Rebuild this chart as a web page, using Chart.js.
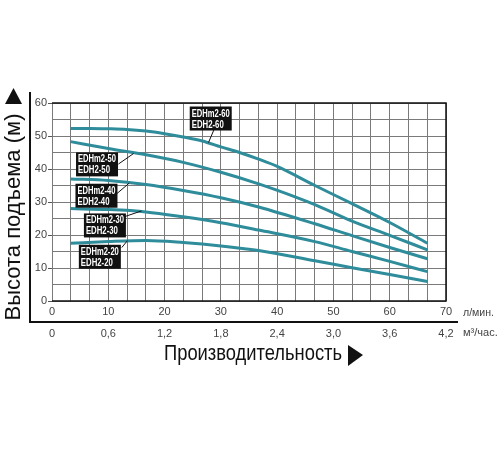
<!DOCTYPE html>
<html>
<head>
<meta charset="utf-8">
<script src="https://cdn.jsdelivr.net/npm/chart.js@4"></script>
<style>
  body { margin: 0; background: #fff; }
  #wrap { width: 500px; height: 450px; }
</style>
</head>
<body>
<div id="wrap"><canvas id="myChart" width="500" height="450"></canvas></div>
<script>
// flow, l/min
const flow60 = [3.3, 6.7, 10, 13.3, 16.7, 20, 23.3, 26.7, 30, 33.3, 36.7, 40, 46.7, 53.3, 60, 66.7];
const head60 = [52.3, 52.3, 52.2, 52, 51.5, 50.7, 49.7, 48.5, 46.7, 45, 43, 40.8, 35, 29.5, 23.8, 17.5];
const flow50 = [3.3, 10, 16.7, 23.3, 30, 36.7, 43.3, 46.7, 53.3, 60, 66.7];
const head50 = [48.3, 46.2, 44.3, 42, 39, 35.5, 31.5, 29.2, 24.2, 19.9, 15.5];
const flow40 = [3.3, 10, 16.7, 23.3, 30, 36.7, 46.7, 53.3, 60, 66.7];
const head40 = [37, 36.5, 35.3, 33.5, 31.3, 28.5, 23.4, 19.8, 16.2, 12.8];
const flow30 = [3.3, 10, 16.7, 23.3, 30, 36.7, 46.7, 53.3, 60, 66.7];
const head30 = [28, 27.7, 27, 25.5, 23.7, 21.5, 18, 15, 12, 8.9];
const flow20 = [3.3, 10, 16.7, 23.3, 30, 36.7, 46.7, 53.3, 60, 66.7];
const head20 = [17.5, 18, 18.3, 17.7, 16.7, 15.3, 12.2, 10.1, 8, 5.9];

const flowTicks = ['0', '10', '20', '30', '40', '50', '60', '70'];
const m3Ticks = ['0', '0,6', '1,2', '1,8', '2,4', '3,0', '3,6', '4,2'];

// model labels: box centre (x, y) and leader line from -> to, in data units
const labelNames = [['EDHm2-60', 'EDH2-60'], ['EDHm2-50', 'EDH2-50'], ['EDHm2-40', 'EDH2-40'], ['EDHm2-30', 'EDH2-30'], ['EDHm2-20', 'EDH2-20']];
const labelBox = [[28.2, 55.3], [8.0, 41.4], [7.9, 31.9], [9.4, 22.9], [8.5, 13.4]];
const leaderFrom = [[28.8, 52], [11.8, 41.5], [11.5, 32.5], [12.8, 25.5], [12.4, 16.2]];
const leaderTo = [[27.8, 48], [14.5, 44.7], [13.7, 35.7], [15.9, 27.3], [13.4, 18.3]];

const teal = '#2e8c9b';
const tickFont = { family: "'Liberation Sans', Arial", size: 11 };

function toXY(xs, ys) {
  return xs.map((x, i) => ({ x: x, y: ys[i] }));
}

function series(xs, ys) {
  return {
    data: toXY(xs, ys),
    borderColor: teal,
    borderWidth: 3,
    pointRadius: 0,
    fill: false,
    cubicInterpolationMode: 'monotone'
  };
}

const decor = {
  id: 'decor',
  afterDatasetsDraw(chart) {
    const ctx = chart.ctx;
    const a = chart.chartArea;
    const xs = chart.scales.x, ys = chart.scales.y;
    ctx.save();
    // frame
    ctx.strokeStyle = '#111';
    ctx.lineWidth = 1.5;
    ctx.beginPath();
    ctx.moveTo(a.left, a.top);
    ctx.lineTo(a.right, a.top);
    ctx.lineTo(a.right, a.bottom);
    ctx.lineTo(a.left, a.bottom);
    ctx.stroke();

    // outer L axis
    ctx.lineWidth = 2;
    ctx.beginPath();
    ctx.moveTo(30, 92);
    ctx.lineTo(30, 322);
    ctx.lineTo(458, 322);
    ctx.stroke();

    // model labels
    labelNames.forEach((names, i) => {
      const fx = xs.getPixelForValue(leaderFrom[i][0]), fy = ys.getPixelForValue(leaderFrom[i][1]);
      const tx = xs.getPixelForValue(leaderTo[i][0]), ty = ys.getPixelForValue(leaderTo[i][1]);
      ctx.strokeStyle = '#111';
      ctx.lineWidth = 1;
      ctx.beginPath();
      ctx.moveTo(fx, fy);
      ctx.lineTo(tx, ty);
      ctx.stroke();
      const cx = xs.getPixelForValue(labelBox[i][0]), cy = ys.getPixelForValue(labelBox[i][1]);
      ctx.fillStyle = '#111';
      ctx.fillRect(cx - 21, cy - 12, 42, 24);
      ctx.fillStyle = '#fff';
      ctx.font = "bold 11px 'Liberation Sans', Arial";
      ctx.textAlign = 'left';
      ctx.textBaseline = 'middle';
      ctx.fillText(names[0], cx - 19, cy - 5, 38);
      ctx.fillText(names[1], cx - 19, cy + 6, 32);
    });

    // units
    ctx.fillStyle = '#444';
    ctx.font = "11px 'Liberation Sans', Arial";
    ctx.textAlign = 'left';
    ctx.textBaseline = 'middle';
    ctx.fillText('л/мин.', 463, 313, 31);
    ctx.fillText('м³/час.', 463, 333, 35);

    // titles
    ctx.fillStyle = '#111';
    ctx.font = "22px 'Liberation Sans', Arial";
    ctx.textAlign = 'center';
    ctx.fillText('Производительность', 253, 354, 178);
    ctx.save();
    ctx.translate(14, 217);
    ctx.rotate(-Math.PI / 2);
    ctx.fillText('Высота подъема (м)', 0, 0, 210);
    ctx.restore();

    // arrows
    ctx.beginPath();
    ctx.moveTo(348, 345);
    ctx.lineTo(363, 355);
    ctx.lineTo(348, 366);
    ctx.closePath();
    ctx.fill();
    ctx.beginPath();
    ctx.moveTo(5, 104);
    ctx.lineTo(13.5, 88);
    ctx.lineTo(22, 104);
    ctx.closePath();
    ctx.fill();
    ctx.restore();
  }
};

const ctx = document.getElementById('myChart');
const myChart = new Chart(ctx, {
  type: 'line',
  data: {
    datasets: [
      series(flow60, head60),
      series(flow50, head50),
      series(flow40, head40),
      series(flow30, head30),
      series(flow20, head20)
    ]
  },
  options: {
    responsive: false,
    animation: false,
    layout: { padding: { left: 0, top: 103, right: 54, bottom: 105 } },
    plugins: { legend: { display: false }, tooltip: { enabled: false } },
    scales: {
      x: {
        type: 'linear',
        position: 'bottom',
        min: 0,
        max: 70,
        afterBuildTicks: (scale) => {
          const t = [];
          for (let i = 0; i <= 21; i++) t.push({ value: i * 70 / 21 });
          scale.ticks = t;
        },
        afterFit: (scale) => { scale.height = 22; },
        grid: { color: '#7a7a7a', lineWidth: 1, drawTicks: false },
        border: { display: false },
        ticks: {
          autoSkip: false,
          maxRotation: 0,
          padding: 4,
          color: '#444',
          font: tickFont,
          callback: (v, i) => (i % 3 === 0 ? flowTicks[i / 3] : '')
        }
      },
      x2: {
        type: 'linear',
        position: 'bottom',
        min: 0,
        max: 4.2,
        afterBuildTicks: (scale) => {
          scale.ticks = m3Ticks.map((s, i) => ({ value: i * 0.6 }));
        },
        afterFit: (scale) => { scale.height = 22; },
        grid: { display: false, drawTicks: false },
        border: { display: false },
        ticks: {
          autoSkip: false,
          maxRotation: 0,
          padding: 4,
          color: '#444',
          font: tickFont,
          callback: (v, i) => m3Ticks[i]
        }
      },
      y: {
        min: 0,
        max: 60,
        afterBuildTicks: (scale) => {
          const t = [];
          for (let v = 0; v <= 60; v += 5) t.push({ value: v });
          scale.ticks = t;
        },
        afterFit: (scale) => { scale.width = 52; },
        grid: {
          color: '#7a7a7a',
          lineWidth: 1,
          tickLength: 4,
          tickColor: (c) => (c.tick && c.tick.value % 10 === 0 ? '#555' : 'rgba(0,0,0,0)')
        },
        border: { display: true, color: '#7a7a7a' },
        ticks: {
          padding: 1,
          color: '#444',
          font: tickFont,
          callback: (v) => (v % 10 === 0 ? String(v) : '')
        }
      }
    }
  },
  plugins: [decor]
});
</script>
</body>
</html>
